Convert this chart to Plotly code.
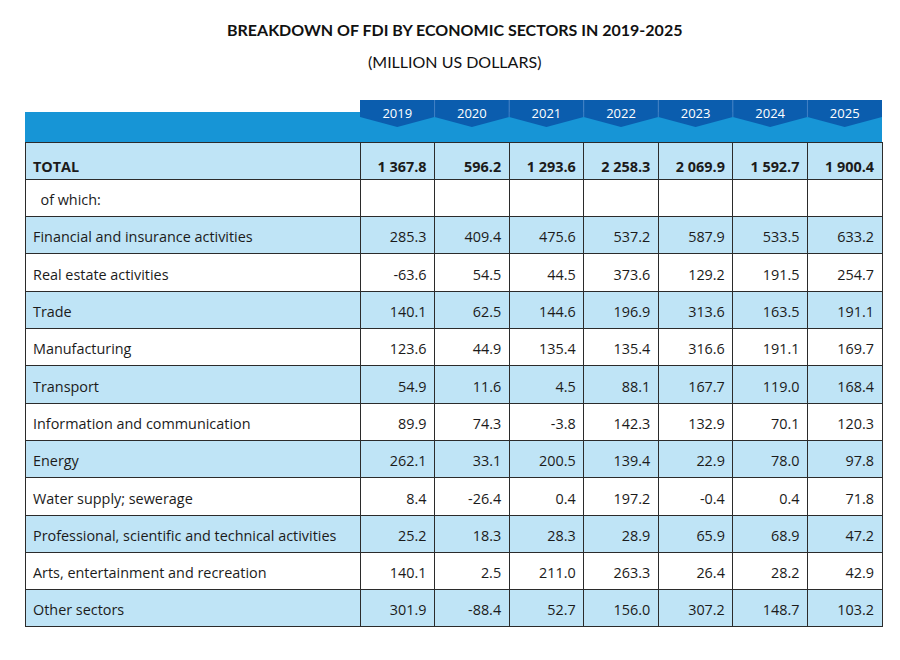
import plotly.graph_objects as go

# data (million US dollars)
years = ["2019", "2020", "2021", "2022", "2023", "2024", "2025"]
sectors = [
    "TOTAL",
    "of which:",
    "Financial and insurance activities",
    "Real estate activities",
    "Trade",
    "Manufacturing",
    "Transport",
    "Information and communication",
    "Energy",
    "Water supply; sewerage",
    "Professional, scientific and technical activities",
    "Arts, entertainment and recreation",
    "Other sectors",
]
# None = empty cell (the "of which:" row)
v2019 = [1367.8, None, 285.3, -63.6, 140.1, 123.6, 54.9, 89.9, 262.1, 8.4, 25.2, 140.1, 301.9]
v2020 = [596.2, None, 409.4, 54.5, 62.5, 44.9, 11.6, 74.3, 33.1, -26.4, 18.3, 2.5, -88.4]
v2021 = [1293.6, None, 475.6, 44.5, 144.6, 135.4, 4.5, -3.8, 200.5, 0.4, 28.3, 211.0, 52.7]
v2022 = [2258.3, None, 537.2, 373.6, 196.9, 135.4, 88.1, 142.3, 139.4, 197.2, 28.9, 263.3, 156.0]
v2023 = [2069.9, None, 587.9, 129.2, 313.6, 316.6, 167.7, 132.9, 22.9, -0.4, 65.9, 26.4, 307.2]
v2024 = [1592.7, None, 533.5, 191.5, 163.5, 191.1, 119.0, 70.1, 78.0, 0.4, 68.9, 28.2, 148.7]
v2025 = [1900.4, None, 633.2, 254.7, 191.1, 169.7, 168.4, 120.3, 97.8, 71.8, 47.2, 42.9, 103.2]
values = [v2019, v2020, v2021, v2022, v2023, v2024, v2025]

W, H = 900, 660
OFF = 8  # the page puts the plot 8px in from the top-left corner
FONT = "Open Sans"
TEXT = "#1b1b1b"
LIGHT = "#bfe4f6"
BAND = "#1795d6"
TAB = "#0b5dae"
CLEAR = "rgba(0,0,0,0)"

# table geometry in (screen) pixels
left, right = 25, 882
first_w = 335
top, head_bottom = 100, 142
row_h = 37.3
text_drop = 7  # plotly puts cell text near the top; nudge it to the middle
col_w = (right - left - first_w) / len(years)
ncols = len(years) + 1


def fmt(v):
    if v is None:
        return ""
    s = f"{abs(v):,.1f}".replace(",", " ")
    return ("-" if v < 0 else "") + s


def bold_first(cells):
    return ["<b>" + cells[0] + "</b>"] + cells[1:]


label_col = bold_first(["\u00a0\u00a0of which:" if s == "of which:" else s for s in sectors])
value_cols = [bold_first([fmt(v) for v in col]) for col in values]

fills = [LIGHT if i % 2 == 0 else "white" for i in range(len(sectors))]


def px(x):
    return (x - OFF) / W


def py(y):
    return 1 - (y - OFF) / H


fig = go.Figure()
# grid: fills, borders and the year header
fig.add_trace(go.Table(
    domain=dict(x=[px(left), px(right)], y=[py(650), py(top)]),
    columnwidth=[first_w] + [col_w] * len(years),
    header=dict(
        values=[""] + years,
        height=head_bottom - top,
        fill_color=CLEAR,
        line=dict(width=0, color=CLEAR),
        align="center",
        font=dict(family=FONT, size=13, color="white"),
    ),
    cells=dict(
        values=[[""] * len(sectors)] * ncols,
        height=row_h,
        fill_color=[fills] * ncols,
        line=dict(color="#2b2b2b", width=1),
    ),
))
# cell text, laid over the grid a few px lower
fig.add_trace(go.Table(
    domain=dict(x=[px(left), px(right)], y=[py(655), py(top)]),
    columnwidth=[first_w] + [col_w] * len(years),
    header=dict(
        values=[""] * ncols,
        height=head_bottom - top + text_drop,
        fill_color=CLEAR,
        line=dict(width=0, color=CLEAR),
    ),
    cells=dict(
        values=[label_col] + value_cols,
        height=row_h,
        fill_color=CLEAR,
        line=dict(width=0, color=CLEAR),
        align=["left"] + ["right"] * len(years),
        font=dict(family=FONT, size=14.4, color=TEXT),
    ),
))

# header band + year tabs (decoration behind the transparent header)
shapes = [dict(type="rect", xref="paper", yref="paper",
               x0=px(left), x1=px(right), y0=py(head_bottom), y1=py(112),
               fillcolor=BAND, line=dict(width=0), layer="below")]
for i in range(len(years)):
    x0 = left + first_w + i * col_w
    x1 = x0 + col_w
    xm = (x0 + x1) / 2
    path = (f"M {px(x0)},{py(top)} L {px(x1)},{py(top)} L {px(x1)},{py(117)} "
            f"L {px(xm)},{py(127)} L {px(x0)},{py(117)} Z")
    shapes.append(dict(type="path", xref="paper", yref="paper", path=path,
                       fillcolor=TAB, line=dict(width=0), layer="below"))
    if i > 0:
        shapes.append(dict(type="line", xref="paper", yref="paper",
                           x0=px(x0), x1=px(x0), y0=py(117), y1=py(top),
                           line=dict(color="#3f7fc4", width=1), layer="below"))

fig.update_layout(
    width=W, height=H,
    margin=dict(l=0, r=0, t=0, b=0),
    paper_bgcolor="white",
    font=dict(family=FONT, color=TEXT),
    shapes=shapes,
    annotations=[
        dict(text="<b>BREAKDOWN OF FDI BY ECONOMIC SECTORS IN 2019-2025</b>",
             x=px(454), y=py(30), xref="paper", yref="paper", showarrow=False,
             yanchor="middle", font=dict(family="Lato", size=16, color="#111")),
        dict(text="(MILLION US DOLLARS)",
             x=px(454), y=py(61), xref="paper", yref="paper", showarrow=False,
             yanchor="middle", font=dict(family="Lato", size=16, color="#111")),
    ],
)

fig.write_html("out.html")
